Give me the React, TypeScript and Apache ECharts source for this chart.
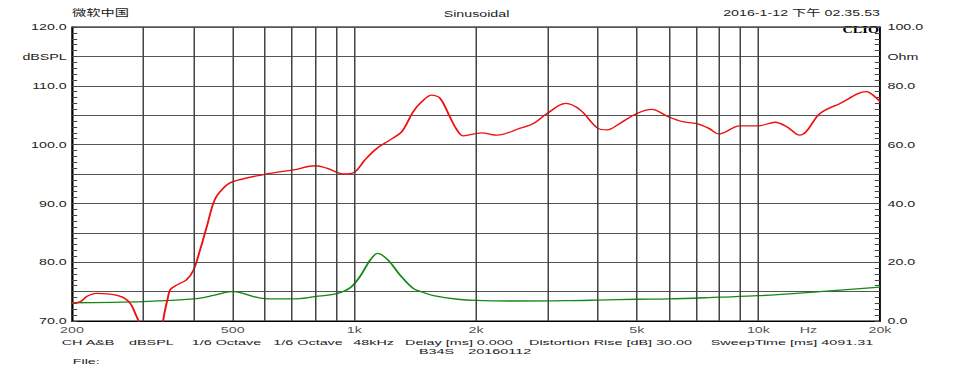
import React, { useEffect, useRef } from 'react';
import * as echarts from 'echarts';

// SPL curve (left axis, dBSPL)
const splFreq = [200, 210, 218, 230, 245, 260, 272, 280, 288, 296, 310, 325, 338, 345, 350, 363, 384, 400, 415, 431, 451, 474, 500, 600, 706, 800, 854, 939, 1000, 1062, 1134, 1226, 1310, 1398, 1469, 1554, 1628, 1724, 1794, 1862, 2066, 2254, 2574, 2776, 3000, 3340, 3620, 4000, 4220, 4540, 5000, 5440, 6000, 6500, 7000, 7520, 8000, 9000, 10000, 11000, 11780, 12660, 13130, 14220, 15930, 18510, 19240, 20000];
const splDb = [73.0, 73.3, 74.2, 74.7, 74.6, 74.3, 73.7, 72.8, 71.0, 69.0, 63.0, 64.0, 71.0, 73.8, 75.3, 76.1, 77.0, 78.7, 82.1, 86.0, 90.6, 92.6, 93.7, 94.95, 95.7, 96.4, 96.0, 95.0, 95.3, 97.4, 99.3, 100.8, 102.2, 105.6, 107.3, 108.4, 107.9, 104.7, 102.5, 101.5, 102.0, 101.6, 102.8, 103.6, 105.3, 107.0, 105.9, 102.8, 102.5, 103.6, 105.3, 106.0, 104.7, 103.9, 103.6, 102.8, 101.8, 103.2, 103.2, 103.8, 103.0, 101.6, 102.2, 105.3, 107.0, 109.0, 108.4, 107.3];

// Impedance curve (right axis, Ohm)
const impFreq = [200, 300, 400, 448, 475, 500, 525, 560, 600, 706, 800, 900, 976, 1032, 1094, 1142, 1212, 1298, 1398, 1488, 1570, 1800, 2000, 2530, 3340, 4000, 5000, 6000, 8000, 10000, 14200, 20000];
const impOhm = [6.2, 6.6, 7.5, 8.7, 9.6, 10.0, 9.6, 8.4, 7.6, 7.5, 8.3, 9.2, 11.3, 15.1, 20.7, 23.0, 20.7, 15.6, 11.1, 9.6, 8.6, 7.4, 7.0, 6.8, 6.9, 7.1, 7.4, 7.5, 8.1, 8.6, 10.0, 11.5];

// Vertical grid lines (Hz)
const gridFreqs = [300, 400, 500, 600, 700, 800, 900, 1000, 2000, 3000, 4000, 5000, 6000, 7000, 8000, 9000, 10000];

// Frequency tick labels
const xTickFreqs = [200, 500, 1000, 2000, 5000, 10000, 13300, 20000];
const xTickLabels = ['200', '500', '1k', '2k', '5k', '10k', 'Hz', '20k'];

const headerLeft = '微软中国';
const headerCenter = 'Sinusoidal';
const headerRight = '2016-1-12 下午 02.35.53';
const footerItems = ['CH A&B', 'dBSPL', '1/6 Octave', '1/6 Octave', '48kHz', 'Delay [ms] 0.000', 'Distortion Rise [dB] 30.00', 'SweepTime [ms] 4091.31'];
const footerX = [61.7, 129, 191.7, 273.3, 353.3, 405, 529, 710.7];
const footer2Items = ['B34S', '20160112'];
const footer2X = [419, 468.3];

const SX = 1.5;
const W = 954 / SX;
const FONT = '"Liberation Sans", Arial, "Noto Sans CJK SC", sans-serif';
const FS = 9.5;
const FS_FOOT = 8;

export default function App() {
  const ref = useRef<HTMLDivElement>(null);
  useEffect(() => {
    const chart = echarts.init(ref.current!, null, { renderer: 'svg' });
    const txt = (text: string, x: number, y: number, align: string = 'left', extra: any = {}, sx: number = 1) => ({
      type: 'text',
      x: x / SX,
      y,
      scaleX: sx,
      silent: true,
      style: {
        text,
        fill: '#222',
        font: `${FS}px ${FONT}`,
        textAlign: align,
        textVerticalAlign: 'middle',
        ...extra,
      },
    });
    const foot = { font: `${FS_FOOT}px ${FONT}` };
    const graphics: any[] = [
      txt(headerLeft, 72, 13),
      txt(headerCenter, 476.5, 14, 'center'),
      txt(headerRight, 880, 13, 'right'),
      txt('CLIO', 879, 30, 'right', { font: `900 9.5px "Liberation Serif", "Times New Roman", serif`, fill: '#000' }),
      ...footerItems.map((t, i) => txt(t, footerX[i], 341.8, 'left', foot, 1.2)),
      ...footer2Items.map((t, i) => txt(t, footer2X[i], 351.4, 'left', foot, 1.2)),
      txt('File:', 72.7, 361, 'left', foot, 1.2),
    ];
    chart.setOption({
      animation: false,
      backgroundColor: '#fff',
      grid: { left: 48, right: W - 880 / SX, top: 27, bottom: 54, show: true, borderColor: '#000', borderWidth: 1 },
      xAxis: {
        type: 'log',
        logBase: 10,
        min: 200,
        max: 20000,
        axisLine: { show: true, lineStyle: { color: '#000', width: 1 } },
        axisTick: { show: false },
        axisLabel: { show: false },
        splitLine: { show: false },
      },
      yAxis: [
        {
          type: 'value',
          min: 70,
          max: 120,
          interval: 5,
          position: 'left',
          axisLine: { show: true, lineStyle: { color: '#000', width: 1 } },
          axisTick: { show: true, inside: true, length: 3.5, lineStyle: { color: '#444' } },
          minorTick: { show: true, splitNumber: 5, length: 3.5, lineStyle: { color: '#444' } },
          axisLabel: {
            margin: 3.5,
            fontSize: FS,
            fontFamily: FONT,
            color: '#222',
            formatter: (v: number) => (v === 115 ? 'dBSPL' : v % 10 === 0 ? v.toFixed(1) : ''),
          },
          splitLine: { show: true, lineStyle: { color: '#555', width: 1 } },
        },
        {
          type: 'value',
          min: 0,
          max: 100,
          interval: 10,
          position: 'right',
          axisLine: { show: true, lineStyle: { color: '#000', width: 1 } },
          axisTick: { show: true, inside: true, length: 3.5, lineStyle: { color: '#444' } },
          minorTick: { show: true, splitNumber: 5, length: 3.5, lineStyle: { color: '#444' } },
          axisLabel: {
            margin: 5,
            fontSize: FS,
            fontFamily: FONT,
            color: '#222',
            formatter: (v: number) => (v === 90 ? 'Ohm' : v % 20 === 0 ? v.toFixed(1) : ''),
          },
          splitLine: { show: false },
        },
      ],
      series: [
        {
          name: 'grid',
          type: 'line',
          data: [],
          silent: true,
          z: 1,
          markLine: {
            silent: true,
            symbol: ['none', 'none'],
            label: { show: false },
            lineStyle: { color: '#444', width: 1, type: 'solid' },
            data: gridFreqs.map((f) => ({ xAxis: f })),
          },
        },
        {
          name: 'SPL',
          type: 'line',
          yAxisIndex: 0,
          data: splFreq.map((f, i) => [f, splDb[i]]),
          smooth: 0.35,
          showSymbol: false,
          clip: true,
          z: 4,
          lineStyle: { color: '#ee1111', width: 1.3 },
        },
        {
          name: 'Impedance',
          type: 'line',
          yAxisIndex: 1,
          data: impFreq.map((f, i) => [f, impOhm[i]]),
          smooth: 0.35,
          showSymbol: false,
          z: 3,
          lineStyle: { color: '#138a13', width: 1.3 },
        },
        {
          name: 'xlabels',
          type: 'scatter',
          yAxisIndex: 0,
          data: xTickFreqs.map((f) => [f, 70]),
          symbolSize: 0,
          silent: true,
          clip: false,
          label: {
            show: true,
            position: 'bottom',
            distance: 4,
            fontSize: FS,
            fontFamily: FONT,
            color: '#222',
            formatter: (p: any) => xTickLabels[p.dataIndex],
          },
        },
      ],
      graphic: graphics,
    });
    return () => chart.dispose();
  }, []);
  return (
    <div style={{ position: 'absolute', left: 0, top: 0, width: 954, height: 375, overflow: 'hidden', background: '#fff' }}>
      <div ref={ref} style={{ width: W, height: 375, transform: `scaleX(${SX})`, transformOrigin: '0 0' }} />
    </div>
  );
}
